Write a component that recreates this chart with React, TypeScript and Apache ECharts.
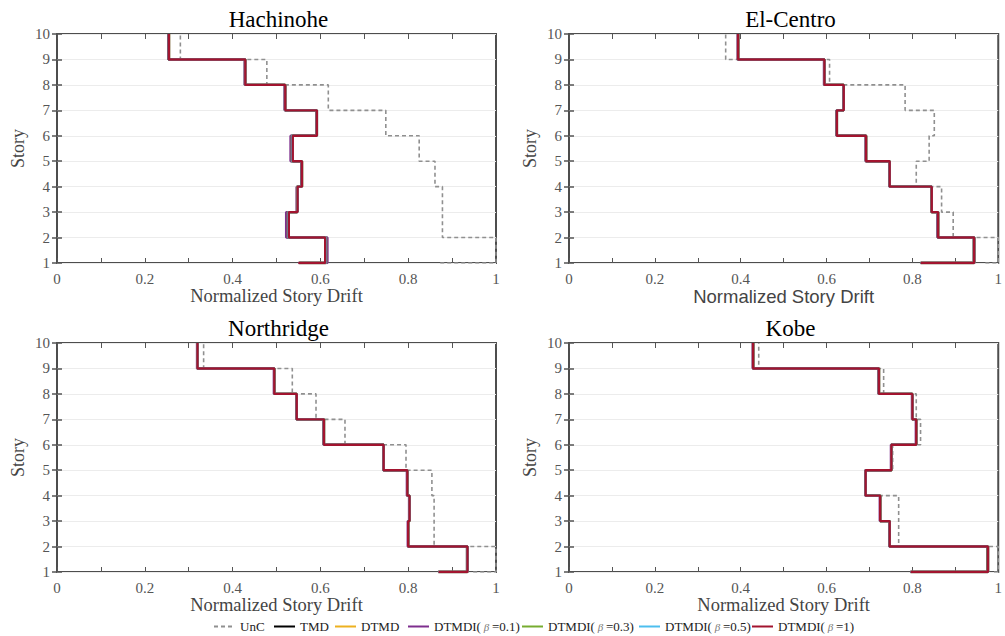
import React, { useEffect, useRef } from 'react';
import * as echarts from 'echarts';

const stories = [1, 2, 3, 4, 5, 6, 7, 8, 9, 10];
const titles = ['Hachinohe', 'El-Centro', 'Northridge', 'Kobe'];
const seriesNames = ['UnC', 'TMD', 'DTMD', 'DTMDI(β=0.1)', 'DTMDI(β=0.3)', 'DTMDI(β=0.5)', 'DTMDI(β=1)'];
const xTickLabels = ['0', '0.2', '0.4', '0.6', '0.8', '1'];

// Each array: [start of stair at story 1, segment 1-2, 2-3, 3-4, ..., 9-10]
const hachinoheUnC = [0.873, 1.0, 0.878, 0.878, 0.861, 0.825, 0.749, 0.618, 0.478, 0.281];
const hachinoheTMD = [0.552, 0.612, 0.526, 0.547, 0.557, 0.535, 0.591, 0.519, 0.428, 0.254];
const hachinoheDTMD = [0.551, 0.612, 0.527, 0.547, 0.558, 0.536, 0.591, 0.520, 0.429, 0.255];
const hachinoheB01 = [0.55, 0.616, 0.522, 0.546, 0.557, 0.532, 0.591, 0.519, 0.428, 0.254];
const hachinoheB03 = [0.551, 0.613, 0.526, 0.547, 0.558, 0.535, 0.592, 0.520, 0.429, 0.255];
const hachinoheB05 = [0.551, 0.612, 0.527, 0.548, 0.558, 0.536, 0.592, 0.520, 0.429, 0.255];
const hachinoheB1 = [0.55, 0.611, 0.528, 0.548, 0.558, 0.537, 0.592, 0.520, 0.429, 0.255];

const elCentroUnC = [0.97, 1.0, 0.895, 0.868, 0.809, 0.839, 0.851, 0.783, 0.607, 0.365];
const elCentroTMD = [0.82, 0.943, 0.859, 0.844, 0.747, 0.692, 0.624, 0.640, 0.595, 0.394];
const elCentroDTMD = [0.82, 0.944, 0.860, 0.845, 0.747, 0.692, 0.624, 0.640, 0.595, 0.394];
const elCentroB01 = [0.819, 0.944, 0.859, 0.845, 0.746, 0.691, 0.623, 0.639, 0.594, 0.393];
const elCentroB03 = [0.819, 0.944, 0.860, 0.845, 0.747, 0.692, 0.624, 0.640, 0.595, 0.394];
const elCentroB05 = [0.819, 0.944, 0.860, 0.845, 0.747, 0.692, 0.624, 0.640, 0.595, 0.394];
const elCentroB1 = [0.819, 0.944, 0.860, 0.845, 0.747, 0.692, 0.624, 0.640, 0.595, 0.394];

const northridgeUnC = [0.948, 1.0, 0.859, 0.859, 0.854, 0.795, 0.656, 0.590, 0.536, 0.334];
const northridgeTMD = [0.869, 0.934, 0.800, 0.803, 0.798, 0.744, 0.608, 0.546, 0.495, 0.320];
const northridgeDTMD = [0.869, 0.935, 0.800, 0.803, 0.798, 0.744, 0.608, 0.546, 0.495, 0.320];
const northridgeB01 = [0.868, 0.935, 0.799, 0.802, 0.797, 0.743, 0.607, 0.545, 0.494, 0.319];
const northridgeB03 = [0.869, 0.935, 0.800, 0.803, 0.798, 0.744, 0.608, 0.546, 0.495, 0.320];
const northridgeB05 = [0.869, 0.935, 0.800, 0.803, 0.798, 0.744, 0.608, 0.546, 0.495, 0.320];
const northridgeB1 = [0.869, 0.935, 0.800, 0.803, 0.798, 0.744, 0.608, 0.546, 0.495, 0.320];

const kobeUnC = [0.99, 1.0, 0.768, 0.768, 0.692, 0.754, 0.819, 0.809, 0.733, 0.442];
const kobeTMD = [0.796, 0.975, 0.747, 0.725, 0.691, 0.751, 0.809, 0.800, 0.722, 0.429];
const kobeDTMD = [0.796, 0.976, 0.747, 0.725, 0.691, 0.751, 0.809, 0.800, 0.722, 0.429];
const kobeB01 = [0.795, 0.976, 0.746, 0.724, 0.690, 0.750, 0.808, 0.799, 0.721, 0.428];
const kobeB03 = [0.796, 0.976, 0.747, 0.725, 0.691, 0.751, 0.809, 0.800, 0.722, 0.429];
const kobeB05 = [0.796, 0.976, 0.747, 0.725, 0.691, 0.751, 0.809, 0.800, 0.722, 0.429];
const kobeB1 = [0.796, 0.976, 0.747, 0.725, 0.691, 0.751, 0.809, 0.800, 0.722, 0.429];

const panels = [
  [hachinoheUnC, hachinoheTMD, hachinoheDTMD, hachinoheB01, hachinoheB03, hachinoheB05, hachinoheB1],
  [elCentroUnC, elCentroTMD, elCentroDTMD, elCentroB01, elCentroB03, elCentroB05, elCentroB1],
  [northridgeUnC, northridgeTMD, northridgeDTMD, northridgeB01, northridgeB03, northridgeB05, northridgeB1],
  [kobeUnC, kobeTMD, kobeDTMD, kobeB01, kobeB03, kobeB05, kobeB1],
];

const colors = ['#909090', '#000000', '#EDB120', '#7E2F8E', '#77AC30', '#4DBEEE', '#A2142F'];

const SERIF = 'Liberation Serif';
const SANS = 'Liberation Sans';

// layout of the legend entries along the bottom (pixels)
const legendLefts = [213, 273, 334, 407, 521, 638, 751];

function stairs(values: number[]) {
  const pts: number[][] = [];
  values.forEach((v, i) => {
    if (i === 0) pts.push([v, stories[0]]);
    else {
      pts.push([v, stories[i - 1]]);
      pts.push([v, stories[i]]);
    }
  });
  return pts;
}

const gridPos = [
  { left: 57, top: 34 },
  { left: 569, top: 34 },
  { left: 57, top: 343 },
  { left: 569, top: 343 },
];
const GW = 439;
const GH = 229;

function buildOption() {
  const grid = gridPos.map((g) => ({
    left: g.left,
    top: g.top,
    width: GW,
    height: GH,
    show: true,
    borderColor: '#4d4d4d',
    borderWidth: 2,
    backgroundColor: '#ffffff',
  }));

  const xAxis: any[] = [];
  const yAxis: any[] = [];
  gridPos.forEach((_, k) => {
    xAxis.push({
      type: 'value',
      gridIndex: k,
      min: 0,
      max: 1,
      interval: 0.1,
      position: 'bottom',
      name: 'Normalized Story Drift',
      nameLocation: 'middle',
      nameGap: 22,
      nameTextStyle: {
        fontFamily: k === 1 ? SANS : SERIF,
        fontSize: 18.5,
        color: '#444',
      },
      axisLine: { show: false },
      axisTick: { show: true, inside: true, length: 5, lineStyle: { color: '#555', width: 1 } },
      splitLine: { show: false },
      axisLabel: {
        margin: 8,
        fontFamily: SERIF,
        fontSize: 15,
        color: '#555',
        formatter: (v: number) => {
          const idx = Math.round(v * 10);
          return idx % 2 === 0 ? xTickLabels[idx / 2] : '';
        },
      },
    });
    xAxis.push({
      type: 'value',
      gridIndex: k,
      min: 0,
      max: 1,
      interval: 0.1,
      position: 'top',
      axisLine: { show: false },
      axisTick: { show: true, inside: true, length: 5, lineStyle: { color: '#555', width: 1 } },
      splitLine: { show: false },
      axisLabel: { show: false },
    });
    yAxis.push({
      type: 'value',
      gridIndex: k,
      min: 1,
      max: 10,
      interval: 1,
      position: 'left',
      name: 'Story',
      nameLocation: 'middle',
      nameRotate: 90,
      nameGap: 30,
      nameTextStyle: { fontFamily: SERIF, fontSize: 18, color: '#444' },
      axisLine: { show: false },
      axisTick: { show: true, inside: true, length: 5, lineStyle: { color: '#555', width: 1.5 } },
      splitLine: { show: true, lineStyle: { color: '#ececec', width: 1 } },
      axisLabel: { margin: 7, fontFamily: SERIF, fontSize: 15, color: '#555' },
    });
    yAxis.push({
      type: 'value',
      gridIndex: k,
      min: 1,
      max: 10,
      interval: 1,
      position: 'right',
      axisLine: { show: false },
      axisTick: { show: true, inside: true, length: 5, lineStyle: { color: '#555', width: 1.5 } },
      splitLine: { show: false },
      axisLabel: { show: false },
    });
  });

  const series: any[] = [];
  panels.forEach((panel, k) => {
    panel.forEach((vals, s) => {
      series.push({
        type: 'line',
        name: seriesNames[s],
        xAxisIndex: 2 * k,
        yAxisIndex: 2 * k,
        data: stairs(vals),
        symbol: 'none',
        showSymbol: false,
        z: 3 + s,
        lineStyle: {
          color: colors[s],
          width: s === 0 ? 1.6 : 2.4,
          type: s === 0 ? [4, 3] : 'solid',
        },
        itemStyle: { color: colors[s] },
      });
    });
  });

  const title = titles.map((t, k) => ({
    text: t,
    left: gridPos[k].left + GW / 2 + 2,
    top: k < 2 ? 8 : 317,
    textAlign: 'center',
    padding: 0,
    textStyle: { fontFamily: SERIF, fontSize: 23, fontWeight: 'normal', color: '#000' },
  }));

  const legend = seriesNames.map((name, i) => ({
    data: [name],
    left: legendLefts[i],
    top: 620,
    padding: 0,
    itemWidth: 21,
    itemHeight: 10,
    itemStyle: { opacity: 0 },
    textStyle: {
      fontFamily: SERIF,
      fontSize: 13,
      color: '#222',
      rich: {
        a: { fontFamily: SERIF, fontSize: 13, color: '#222' },
        b: { fontFamily: SERIF, fontSize: 11, fontStyle: 'italic', color: '#777' },
      },
    },
    formatter: (n: string) => {
      const j = n.indexOf('β');
      if (j < 0) return '{a|' + n + '}';
      return '{a|' + n.slice(0, j) + '}{b| β }{a|' + n.slice(j + 1) + '}';
    },
  }));

  return {
    animation: false,
    backgroundColor: '#ffffff',
    title,
    grid,
    xAxis,
    yAxis,
    series,
    legend,
  };
}

export default function App() {
  const ref = useRef<HTMLDivElement>(null);
  useEffect(() => {
    if (!ref.current) return;
    const chart = echarts.init(ref.current, null, { renderer: 'svg' });
    chart.setOption(buildOption() as any);
    return () => chart.dispose();
  }, []);
  return (
    <div
      ref={ref}
      style={{ position: 'absolute', left: 0, top: 0, width: 1005, height: 636, background: '#fff' }}
    />
  );
}
